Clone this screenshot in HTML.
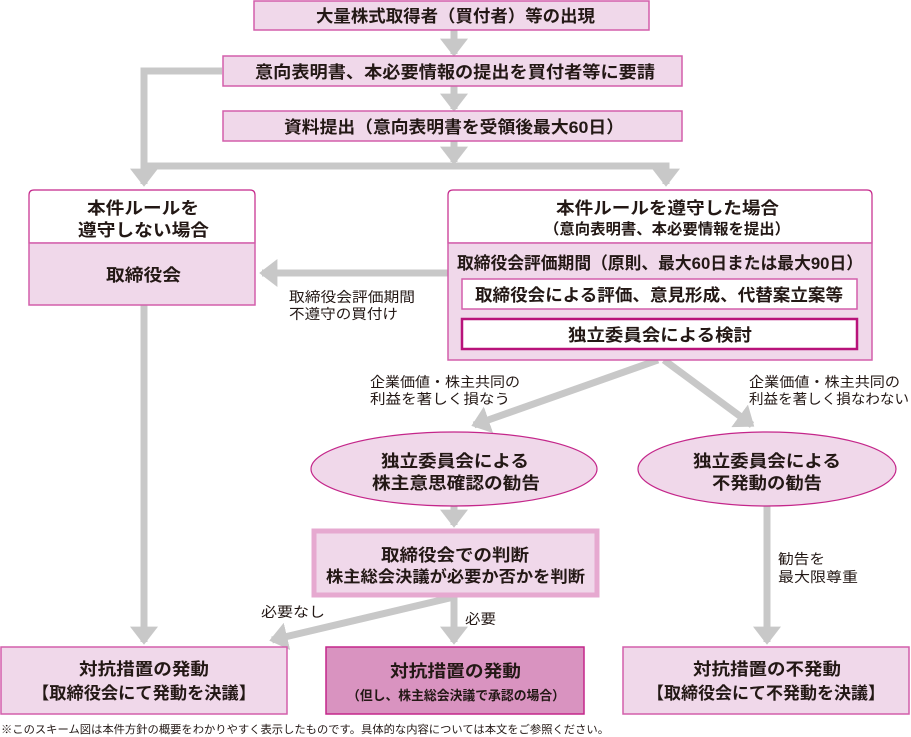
<!DOCTYPE html>
<html><head><meta charset="utf-8"><style>
html,body{margin:0;padding:0;background:#fff;}
svg{display:block;font-family:"Liberation Sans","Noto Sans CJK JP",sans-serif;}
text{fill:#231815;}
.m{font-weight:bold;}
</style></head><body>
<svg width="911" height="737" viewBox="0 0 911 737" xmlns="http://www.w3.org/2000/svg">
<defs>
<marker id="a" markerWidth="4" markerHeight="4" refX="2.2" refY="2" orient="auto" markerUnits="strokeWidth"><path d="M0,0 L2.6,2 L0,4 Z" fill="#c8c8c8"/></marker>
</defs>
<g stroke="#c8c8c8" stroke-width="7" fill="none">
<line x1="454" y1="30" x2="454" y2="54" marker-end="url(#a)"/>
<line x1="454" y1="86" x2="454" y2="109" marker-end="url(#a)"/>
<line x1="454" y1="141" x2="454" y2="162" marker-end="url(#a)"/>
<polyline points="222,71 144,71 144,184" marker-end="url(#a)"/>
<polyline points="144,166 666,166 666,184" marker-end="url(#a)"/>
<line x1="448" y1="273" x2="262" y2="273" marker-end="url(#a)"/>
<line x1="658" y1="360" x2="474" y2="425" marker-end="url(#a)"/>
<line x1="664" y1="360" x2="752" y2="425" marker-end="url(#a)"/>
<line x1="144" y1="305" x2="144" y2="642" marker-end="url(#a)"/>
<line x1="454" y1="506" x2="454" y2="525" marker-end="url(#a)"/>
<line x1="454" y1="597" x2="454" y2="642" marker-end="url(#a)"/>
<line x1="454" y1="597" x2="272" y2="640" marker-end="url(#a)"/>
<line x1="767" y1="506" x2="767" y2="642" marker-end="url(#a)"/>
</g>
<g stroke="#d35fab" stroke-width="1.5">
<rect x="254" y="1" width="395" height="29" fill="#f0d8ea"/>
<rect x="223" y="56" width="459" height="30" fill="#f0d8ea"/>
<rect x="223" y="111" width="459" height="30" fill="#f0d8ea"/>
<path d="M29,243 V195 Q29,190 34,190 H250 Q255,190 255,195 V243 Z" fill="#fff" stroke="#c4268a" stroke-width="1.2"/>
<rect x="29" y="243" width="226" height="62" fill="#f0d8ea"/>
<path d="M448,243 V195 Q448,190 453,190 H867 Q872,190 872,195 V243 Z" fill="#fff" stroke="#c4268a" stroke-width="1.2"/>
<rect x="448" y="243" width="424" height="117" fill="#f0d8ea"/>
<rect x="462" y="279" width="395" height="30" fill="#fff"/>
<rect x="462" y="319" width="395" height="30" fill="#fff" stroke="#b8137a" stroke-width="2.5"/>
<ellipse cx="454" cy="469" rx="143" ry="37" fill="#f0d8ea" stroke="#c4268a" stroke-width="1.2"/>
<ellipse cx="767" cy="469" rx="129" ry="37" fill="#f0d8ea" stroke="#c4268a" stroke-width="1.2"/>
<rect x="314" y="531" width="283" height="64" fill="#f0d8ea" stroke="#e6a9d0" stroke-width="5"/>
<rect x="1" y="647" width="286" height="67" fill="#f0d8ea"/>
<rect x="326" y="647" width="258" height="67" fill="#d993c0" stroke="#c4268a"/>
<rect x="623" y="647" width="286" height="67" fill="#f0d8ea"/>
</g>
<g font-size="17" class="m" lengthAdjust="spacingAndGlyphs">
<text x="316" y="22" textLength="279" lengthAdjust="spacingAndGlyphs">大量株式取得者（買付者）等の出現</text>
<text x="255" y="78" textLength="400" lengthAdjust="spacingAndGlyphs">意向表明書、本必要情報の提出を買付者等に要請</text>
<text x="284" y="133" textLength="340" lengthAdjust="spacingAndGlyphs">資料提出（意向表明書を受領後最大60日）</text>
<text x="87" y="214" textLength="112" lengthAdjust="spacingAndGlyphs">本件ルールを</text>
<text x="78" y="236" textLength="131" lengthAdjust="spacingAndGlyphs">遵守しない場合</text>
<text x="106" y="281" textLength="75" lengthAdjust="spacingAndGlyphs">取締役会</text>
<text x="556" y="214" textLength="223" lengthAdjust="spacingAndGlyphs">本件ルールを遵守した場合</text>
<text x="544" y="234" font-size="15" textLength="246" lengthAdjust="spacingAndGlyphs">（意向表明書、本必要情報を提出）</text>
<text x="457" y="269" textLength="406" lengthAdjust="spacingAndGlyphs">取締役会評価期間（原則、最大60日または最大90日）</text>
<text x="475" y="301" textLength="368" lengthAdjust="spacingAndGlyphs">取締役会による評価、意見形成、代替案立案等</text>
<text x="568" y="341" textLength="184" lengthAdjust="spacingAndGlyphs">独立委員会による検討</text>
<text x="381" y="467" textLength="148" lengthAdjust="spacingAndGlyphs">独立委員会による</text>
<text x="372" y="489" textLength="168" lengthAdjust="spacingAndGlyphs">株主意思確認の勧告</text>
<text x="693" y="467" textLength="148" lengthAdjust="spacingAndGlyphs">独立委員会による</text>
<text x="712" y="489" textLength="110" lengthAdjust="spacingAndGlyphs">不発動の勧告</text>
<text x="381" y="561" textLength="148" lengthAdjust="spacingAndGlyphs">取締役会での判断</text>
<text x="326" y="582" font-size="16" textLength="259" lengthAdjust="spacingAndGlyphs">株主総会決議が必要か否かを判断</text>
<text x="79" y="675" textLength="130" lengthAdjust="spacingAndGlyphs">対抗措置の発動</text>
<text x="32" y="699" textLength="224" lengthAdjust="spacingAndGlyphs">【取締役会にて発動を決議】</text>
<text x="390" y="677" textLength="131" lengthAdjust="spacingAndGlyphs">対抗措置の発動</text>
<text x="347" y="700" font-size="13" textLength="218" lengthAdjust="spacingAndGlyphs">（但し、株主総会決議で承認の場合）</text>
<text x="693" y="675" textLength="148" lengthAdjust="spacingAndGlyphs">対抗措置の不発動</text>
<text x="647" y="699" textLength="238" lengthAdjust="spacingAndGlyphs">【取締役会にて不発動を決議】</text>
</g>
<g font-size="14">
<text x="289" y="302" textLength="126" lengthAdjust="spacingAndGlyphs">取締役会評価期間</text>
<text x="289" y="319" textLength="109" lengthAdjust="spacingAndGlyphs">不遵守の買付け</text>
<text x="370" y="387" textLength="150" lengthAdjust="spacingAndGlyphs">企業価値・株主共同の</text>
<text x="370" y="404" textLength="140" lengthAdjust="spacingAndGlyphs">利益を著しく損なう</text>
<text x="749" y="387" textLength="151" lengthAdjust="spacingAndGlyphs">企業価値・株主共同の</text>
<text x="749" y="404" textLength="160" lengthAdjust="spacingAndGlyphs">利益を著しく損なわない</text>
<text x="778" y="564" textLength="47" lengthAdjust="spacingAndGlyphs">勧告を</text>
<text x="778" y="582" textLength="80" lengthAdjust="spacingAndGlyphs">最大限尊重</text>
<text x="261" y="617" textLength="64" lengthAdjust="spacingAndGlyphs">必要なし</text>
<text x="465" y="624" textLength="31" lengthAdjust="spacingAndGlyphs">必要</text>
<text x="1" y="733" font-size="11" textLength="608" lengthAdjust="spacingAndGlyphs">※このスキーム図は本件方針の概要をわかりやすく表示したものです。具体的な内容については本文をご参照ください。</text>
</g>
</svg>
</body></html>
